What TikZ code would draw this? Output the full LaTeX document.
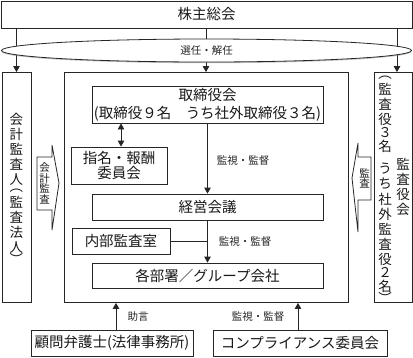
\documentclass[tikz,border=0pt]{standalone}
\usepackage{fontspec}
\setmainfont{Noto Sans CJK JP}
\usetikzlibrary{arrows.meta,shapes.geometric,shadows}
\newcommand\vslot[2]{\hbox to 16pt{\hss\vbox to #1{\vss\hbox{#2}\vss}\hss}}
\tikzset{
  ln/.style={draw=black!85, line width=0.8pt},
  box/.style={ln, fill=white, inner sep=0pt, align=center, text=black!90,
    font=\fontsize{14.5}{18}\selectfont},
  arr/.style={ln, -{Triangle[width=6.5pt,length=6pt]}},
  darr/.style={ln, {Triangle[width=6.5pt,length=6pt]}-{Triangle[width=6.5pt,length=6pt]}},
  lbl/.style={inner sep=0pt, text=black!85, font=\fontsize{10.5}{12}\selectfont},
  vtxt/.style={inner sep=0pt, text=black!90, font=\fontsize{13.5}{15}\selectfont},
  vsmall/.style={inner sep=0pt, text=black!90, font=\fontsize{10.5}{11}\selectfont},
}
\begin{document}
\begin{tikzpicture}[x=1pt,y=-1pt]
\useasboundingbox (0,0) rectangle (413,357);
% boxes
\node[box, minimum width=411, minimum height=27] (share) at (206.5,14.5) {株主総会};
\node[box, minimum width=29, minimum height=230] (audL) at (16.5,187.5) {};
\node[box, minimum width=284, minimum height=230] (inner) at (206,187.5) {};
\node[box, minimum width=38, minimum height=230] (audR) at (393,187.5) {};
% arrows from shareholders
\draw[arr] (share.south -| audL.north) -- (audL.north);
\draw[arr] (share.south -| inner.north) -- (inner.north);
\draw[arr] ([xshift=4pt]share.south -| audR.north) -- ([xshift=4pt]audR.north);
% ellipse
\node[ln, fill=white, ellipse, minimum width=410, minimum height=23, inner sep=0pt,
  drop shadow={shadow xshift=0pt, shadow yshift=-1.2pt, opacity=0.45},
  text=black!85, font=\fontsize{10.5}{12}\selectfont] (sel) at (206.5,50.5) {選任・解任};
% inner boxes
\node[box, minimum width=231, minimum height=37] (board) at (207.5,104.5)
  {取締役会\\(取締役９名　うち社外取締役３名)};
\node[box, minimum width=96, minimum height=37, font=\fontsize{14.5}{15.5}\selectfont] (nom) at (119,165.5) {指名・報酬\\委員会};
\node[box, minimum width=231, minimum height=26] (mgmt) at (207.5,207) {経営会議};
\node[box, minimum width=98, minimum height=26] (ia) at (121,241) {内部監査室};
\node[box, minimum width=231, minimum height=25] (dept) at (207.5,275.5) {各部署／グループ会社};
\node[box, minimum width=162, minimum height=26] (law) at (112,343) {顧問弁護士(法律事務所)};
\node[box, minimum width=174, minimum height=26] (comp) at (300,343) {コンプライアンス委員会};
% inner connectors
\draw[darr] ([xshift=2pt]board.south -| nom.north) -- ([xshift=2pt]nom.north);
\draw[arr] (board.south) -- (mgmt.north);
\draw[arr] (mgmt.south) -- (dept.north);
\draw[ln] (ia.east) -- (ia.east -| mgmt.south);
\draw[arr] ([xshift=4pt]law.north) -- ([xshift=4pt]law.north |- inner.south);
\draw[arr] ([xshift=-2pt]comp.north) -- ([xshift=-2pt]comp.north |- inner.south);
% labels
\node[lbl] (l1) at (243,161) {監視・監督};
\node[lbl] (l2) at (245,242) {監視・監督};
\node[lbl] (l3) at (138,317) {助言};
\node[lbl] (l4) at (258,317) {監視・監督};
% vertical texts in side boxes
\node[vtxt] (tL) at (16.5,187.5) {\vbox{\offinterlineskip
  \vslot{15pt}{会}\vslot{15pt}{計}\vslot{15pt}{監}\vslot{15pt}{査}\vslot{15pt}{人}%
  \vslot{8pt}{︵}\vslot{15pt}{監}\vslot{15pt}{査}\vslot{15pt}{法}\vslot{15pt}{人}\vslot{8pt}{︶}}};
\node[vtxt] (tR1) at (385,187.5) {\vbox{\offinterlineskip
  \vslot{8pt}{︵}\vslot{15pt}{監}\vslot{15pt}{査}\vslot{15pt}{役}\vslot{12pt}{３}\vslot{15pt}{名}%
  \vslot{8pt}{}\vslot{15pt}{う}\vslot{15pt}{ち}\vslot{15pt}{社}\vslot{15pt}{外}\vslot{15pt}{監}%
  \vslot{15pt}{査}\vslot{15pt}{役}\vslot{12pt}{２}\vslot{15pt}{名}\vslot{8pt}{︶}}};
\node[vtxt] (tR2) at (403,187) {\vbox{\offinterlineskip
  \vslot{15pt}{監}\vslot{15pt}{査}\vslot{15pt}{役}\vslot{15pt}{会}}};
% audit arrows (fletches)
\draw[ln, fill=white] (37,157) -- (52,157) -- (52,145) -- (59,183) -- (52,230) -- (52,210) -- (37,210) -- cycle;
\node[vsmall] (fa) at (44.5,183.5) {\vbox{\offinterlineskip
  \vslot{10.5pt}{会}\vslot{10.5pt}{計}\vslot{10.5pt}{監}\vslot{10.5pt}{査}}};
\draw[ln, fill=white] (371,157) -- (358,157) -- (358,143) -- (352,178) -- (358,232) -- (358,200) -- (371,200) -- cycle;
\node[vsmall] (fb) at (364.5,178.5) {\vbox{\offinterlineskip
  \vslot{10.5pt}{監}\vslot{10.5pt}{査}}};
\end{tikzpicture}
\end{document}
